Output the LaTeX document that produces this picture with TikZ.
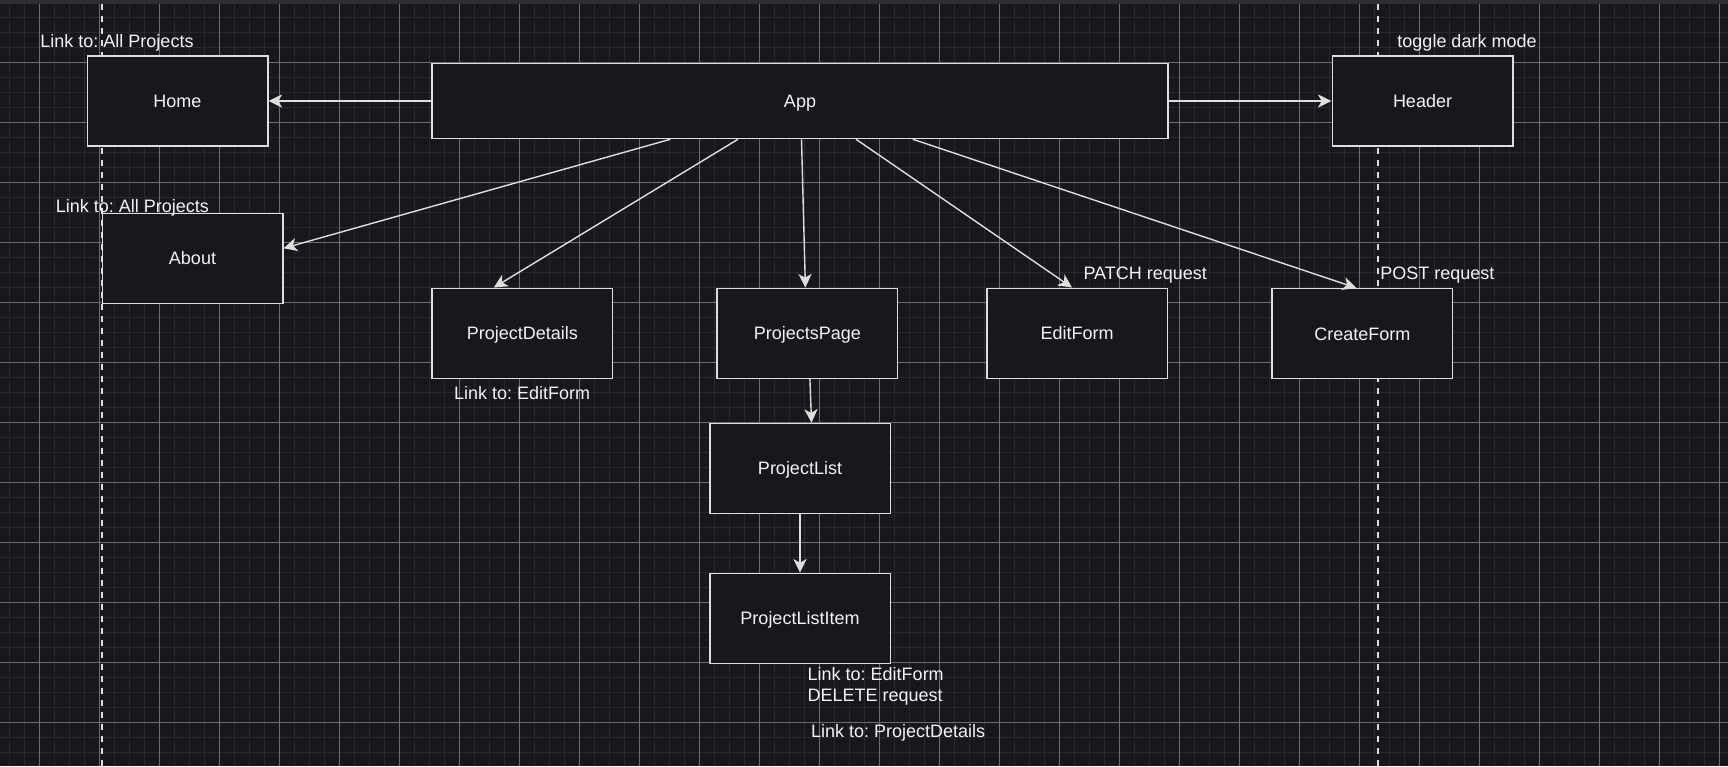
\documentclass[tikz,border=0pt]{standalone}
\usepackage{fontspec}
\setmainfont{Liberation Sans}
\usetikzlibrary{arrows.meta,calc,positioning}
\frenchspacing

\definecolor{canvas}{RGB}{24,23,29}
\definecolor{gridminor}{RGB}{41,40,46}
\definecolor{gridmajor}{RGB}{108,108,113}
\definecolor{topbar}{RGB}{46,45,51}
\definecolor{edge}{RGB}{222,222,222}
\definecolor{ink}{RGB}{243,243,243}

\tikzset{
  comp/.style={draw=edge, fill=canvas, line width=0.75pt, minimum width=90.25pt,
    minimum height=45pt, inner sep=0pt, text=ink, text height=6.45pt, text depth=0pt},
  note/.style={text=ink, inner sep=0pt},
  link/.style={draw=edge, line width=0.7pt,
    -{Stealth[length=6.8pt,width=6.6pt,inset=1.9pt]}},
  lane/.style={draw=edge, line width=0.8pt, dash pattern=on 3pt off 3pt}
}

\begin{document}
\begin{tikzpicture}[x = 0.5pt, y = -0.5pt, style={font=\fontsize{9pt}{10.4pt}\selectfont}]
\useasboundingbox (0,0) rectangle (1728,766);
% Canvas and grid
\fill[canvas] (0,0) rectangle (1728,766);
\foreach \gx in {9.4,24.4,...,1728} \draw[gridminor, line width=0.5pt] (\gx,0) -- (\gx,766);
\foreach \gy in {2.3,17.3,...,766} \draw[gridminor, line width=0.5pt] (0,\gy) -- (1728,\gy);
\foreach \gx in {39.4,99.4,...,1728} \draw[gridmajor, line width=0.5pt] (\gx,0) -- (\gx,766);
\foreach \gy in {2.3,62.3,...,766} \draw[gridmajor, line width=0.5pt] (0,\gy) -- (1728,\gy);
\fill[topbar] (0,0) rectangle (1728,3.5);
% Dashed lanes
\draw[lane] (101.7,3.5) -- (101.7,766);
\draw[lane] (1377.8,3.5) -- (1377.8,766);
% App and top row
\node[comp, minimum width=368pt, minimum height=37.5pt] (app) at (800,101) {App};
\node[comp] (home) at (177.5,101) {Home};
\node[comp] (header) at (1422.5,101) {Header};
\node[comp] (about) at (192.5,258.3) {About};
% Second row
\node[comp] (details) at (522.3,333.3) {ProjectDetails};
\node[comp] (page) at (807.4,333.3) {ProjectsPage};
\node[comp] (edit) at (1077,333.3) {EditForm};
\node[comp] (create) at (1362.3,333.7) {CreateForm};
% List column
\node[comp] (list) at (800,468.5) {ProjectList};
\node[comp] (item) at (800,618.3) {ProjectListItem};
% Notes
\node[note] (homenote) at (117,43.2) {Link to: All Projects};
\node[note] (aboutnote) at (132.3,207.9) {Link to: All Projects};
\node[note] (headernote) at (1467,43) {toggle dark mode};
\node[note] (editnote) at (1145.2,274.9) {PATCH request};
\node[note] (createnote) at (1437.3,275.5) {POST request};
\node[note] (detailsnote) at (522.1,393.3) {Link to: EditForm};
\node[note, anchor=west, align=left] (itemnote) at (807.3,686.4) {Link to: EditForm\\DELETE request};
\node[note, anchor=west] (itemnote2) at (810.7,733) {Link to: ProjectDetails};
% Connectors
\draw[link] (app.west) -- (home.east);
\draw[link] (app.east) -- (header.west);
\draw[link] ($(app.south)+(-129.6,0)$) -- ($(about.east)+(0,-10)$);
\draw[link] ($(app.south)+(-62,0)$) -- ($(details.north)+(-28.5,0)$);
\draw[link] ($(app.south)+(1.5,0)$) -- ($(page.north)+(-2,0)$);
\draw[link] ($(app.south)+(56,0)$) -- ($(edit.north)+(-5,0)$);
\draw[link] ($(app.south)+(112.8,0)$) -- ($(create.north)+(-6,0)$);
\draw[link] ($(page.south)+(2.5,0)$) -- ($(list.north)+(11.5,0)$);
\draw[link] (list.south) -- (item.north);
\end{tikzpicture}
\end{document}
